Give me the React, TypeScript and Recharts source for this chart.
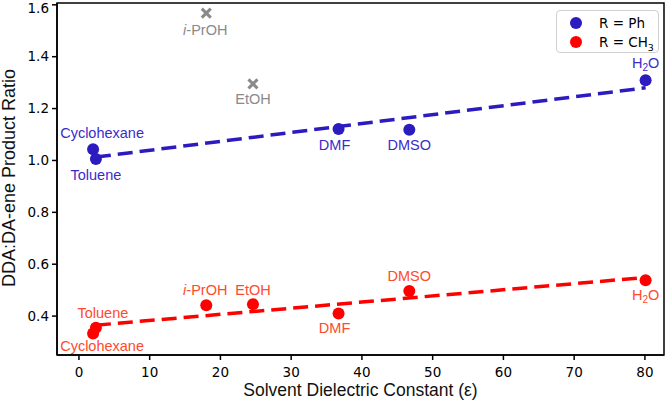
import React from "react";
import { ComposedChart, Scatter, XAxis, YAxis, ReferenceArea } from "recharts";

// R = Ph series (blue circles)
const phSolvents = ["Cyclohexane", "Toluene", "DMF", "DMSO", "H2O"];
const phEpsilon = [2.0, 2.4, 36.7, 46.7, 80.1];
const phRatio = [1.043, 1.006, 1.121, 1.118, 1.309];

// R = Ph outliers left out of the fit (grey crosses)
const outlierSolvents = ["i-PrOH", "EtOH"];
const outlierEpsilon = [18.0, 24.6];
const outlierRatio = [1.568, 1.295];

// R = CH3 series (red circles)
const meSolvents = ["Cyclohexane", "Toluene", "i-PrOH", "EtOH", "DMF", "DMSO", "H2O"];
const meEpsilon = [2.0, 2.4, 18.0, 24.6, 36.7, 46.7, 80.1];
const meRatio = [0.333, 0.355, 0.442, 0.446, 0.41, 0.497, 0.538];

// linear fit end points
const fitEpsilon = [2.4, 80.1];
const phFit = [1.013, 1.28];
const meFit = [0.365, 0.549];

const xTicks = [0, 10, 20, 30, 40, 50, 60, 70, 80];
const yTicks = [0.4, 0.6, 0.8, 1.0, 1.2, 1.4, 1.6];
const xDomain: [number, number] = [-3.1, 82.7];
const yDomain: [number, number] = [0.25, 1.607];

const BLUE = "#2c1bbf";
const BLUE_TEXT = "#3a2ccc";
const RED = "#ff0000";
const RED_TEXT = "#ff4a2c";
const GREY = "#8a8a8a";
const LABEL_FONT = "'Liberation Sans', Arial, sans-serif";

if (typeof document !== "undefined") document.body.style.margin = "0";

const toPoints = (names: string[], xs: number[], ys: number[]) =>
  xs.map((x, i) => ({ name: names[i], x, y: ys[i] }));

const phData = toPoints(phSolvents, phEpsilon, phRatio);
const outlierData = toPoints(outlierSolvents, outlierEpsilon, outlierRatio);
const meData = toPoints(meSolvents, meEpsilon, meRatio);
const phFitData = fitEpsilon.map((x, i) => ({ x, y: phFit[i] }));
const meFitData = fitEpsilon.map((x, i) => ({ x, y: meFit[i] }));

// label offsets relative to each marker centre
const phOffsets: Record<string, [number, number]> = {
  Cyclohexane: [9, -16],
  Toluene: [0, 16],
  DMF: [-4, 16],
  DMSO: [0, 15],
  H2O: [0, -17],
};
const meOffsets: Record<string, [number, number]> = {
  Cyclohexane: [9, 13],
  Toluene: [7, -15],
  "i-PrOH": [-1, -15],
  EtOH: [0, -14],
  DMF: [-4, 15],
  DMSO: [0, -15],
  H2O: [0, 15],
};
const outlierOffsets: Record<string, [number, number]> = {
  "i-PrOH": [-1, 17],
  EtOH: [0, 15],
};

function SolventName({ name }: { name: string }) {
  if (name === "H2O") {
    return (
      <>
        H<tspan dy={4} fontSize="0.7em">2</tspan>
        <tspan dy={-4}>O</tspan>
      </>
    );
  }
  if (name.startsWith("i-")) {
    return (
      <>
        <tspan fontStyle="italic">i</tspan>
        {name.slice(1)}
      </>
    );
  }
  return <>{name}</>;
}

const makeDot =
  (fill: string, textColor: string, offsets: Record<string, [number, number]>) =>
  (props: any) => {
    const { cx, cy, payload } = props;
    const [dx, dy] = offsets[payload.name] || [0, 0];
    return (
      <g>
        <circle cx={cx} cy={cy} r={6} fill={fill} />
        <text
          x={cx + dx}
          y={cy + dy}
          textAnchor="middle"
          dominantBaseline="central"
          fill={textColor}
          fontSize={14.5}
          fontFamily={LABEL_FONT}
        >
          <SolventName name={payload.name} />
        </text>
      </g>
    );
  };

const crossShape = (props: any) => {
  const { cx, cy, payload } = props;
  const [dx, dy] = outlierOffsets[payload.name] || [0, 0];
  const s = 4.5;
  return (
    <g>
      <path
        d={`M${cx - s},${cy - s}L${cx + s},${cy + s}M${cx - s},${cy + s}L${cx + s},${cy - s}`}
        stroke={GREY}
        strokeWidth={3}
      />
      <text
        x={cx + dx}
        y={cy + dy}
        textAnchor="middle"
        dominantBaseline="central"
        fill={GREY}
        fontSize={14.5}
        fontFamily={LABEL_FONT}
      >
        <SolventName name={payload.name} />
      </text>
    </g>
  );
};

const noShape = () => <g />;

function LegendBox() {
  const row = (color: string, label: React.ReactNode) => (
    <div style={{ display: "flex", alignItems: "center", height: 19 }}>
      <span
        style={{
          display: "inline-block",
          width: 12,
          height: 12,
          borderRadius: 6,
          background: color,
          marginLeft: 13,
          marginRight: 17,
        }}
      />
      <span style={{ whiteSpace: "nowrap" }}>{label}</span>
    </div>
  );
  return (
    <div
      style={{
        position: "absolute",
        left: 556,
        top: 10,
        width: 103,
        height: 43,
        border: "1px solid #d0d0d0",
        borderRadius: 4,
        background: "#fff",
        fontFamily: "'DejaVu Sans', sans-serif",
        fontSize: 13.5,
        color: "#000",
        paddingTop: 2,
        boxSizing: "border-box",
      }}
    >
      {row(BLUE, "R = Ph")}
      {row(
        RED,
        <>
          R = CH<sub style={{ fontSize: "0.7em", lineHeight: 0 }}>3</sub>
        </>
      )}
    </div>
  );
}

const tickStyle = { fill: "#000", fontSize: 13.5, fontFamily: "'DejaVu Sans', sans-serif" };

export default function App() {
  return (
    <div style={{ position: "relative", width: 666, height: 408, background: "#fff" }}>
      <ComposedChart
        width={666}
        height={408}
        margin={{ top: 3, right: 2, bottom: 0, left: 0 }}
      >
        <XAxis
          type="number"
          dataKey="x"
          domain={xDomain}
          ticks={xTicks}
          allowDataOverflow
          height={53}
          stroke="#000"
          strokeWidth={1.5}
          tickSize={5}
          tickMargin={7}
          tick={tickStyle}
          label={({ viewBox }: any) => (
            <text
              x={viewBox.x + viewBox.width / 2}
              y={396}
              textAnchor="middle"
              fontSize={17.5}
              fontFamily={LABEL_FONT}
              fill="#111"
            >
              Solvent Dielectric Constant (ε)
            </text>
          )}
        />
        <YAxis
          type="number"
          dataKey="y"
          domain={yDomain}
          ticks={yTicks}
          allowDataOverflow
          width={57}
          stroke="#000"
          strokeWidth={1.5}
          tickSize={5}
          tickMargin={3}
          tick={tickStyle}
          tickFormatter={(v: number) => v.toFixed(1)}
          label={() => (
            <text
              x={15}
              y={178}
              transform="rotate(-90, 15, 178)"
              textAnchor="middle"
              fontSize={18}
              fontFamily={LABEL_FONT}
              fill="#111"
            >
              DDA:DA-ene Product Ratio
            </text>
          )}
        />
        {/* axes frame */}
        <ReferenceArea
          x1={xDomain[0]}
          x2={xDomain[1]}
          y1={yDomain[0]}
          y2={yDomain[1]}
          fill="none"
          fillOpacity={0}
          stroke="#000"
          strokeWidth={1.5}
          strokeOpacity={1}
        />
        <Scatter
          data={phFitData}
          line={{ stroke: BLUE, strokeWidth: 3.5, strokeDasharray: "15 7" }}
          shape={noShape}
          legendType="none"
          isAnimationActive={false}
        />
        <Scatter
          data={meFitData}
          line={{ stroke: RED, strokeWidth: 3.5, strokeDasharray: "15 7" }}
          shape={noShape}
          legendType="none"
          isAnimationActive={false}
        />
        <Scatter
          name="R = Ph"
          data={phData}
          shape={makeDot(BLUE, BLUE_TEXT, phOffsets)}
          isAnimationActive={false}
        />
        <Scatter
          data={outlierData}
          shape={crossShape}
          legendType="none"
          isAnimationActive={false}
        />
        <Scatter
          name="R = CH3"
          data={meData}
          shape={makeDot(RED, RED_TEXT, meOffsets)}
          isAnimationActive={false}
        />
      </ComposedChart>
      <LegendBox />
    </div>
  );
}
